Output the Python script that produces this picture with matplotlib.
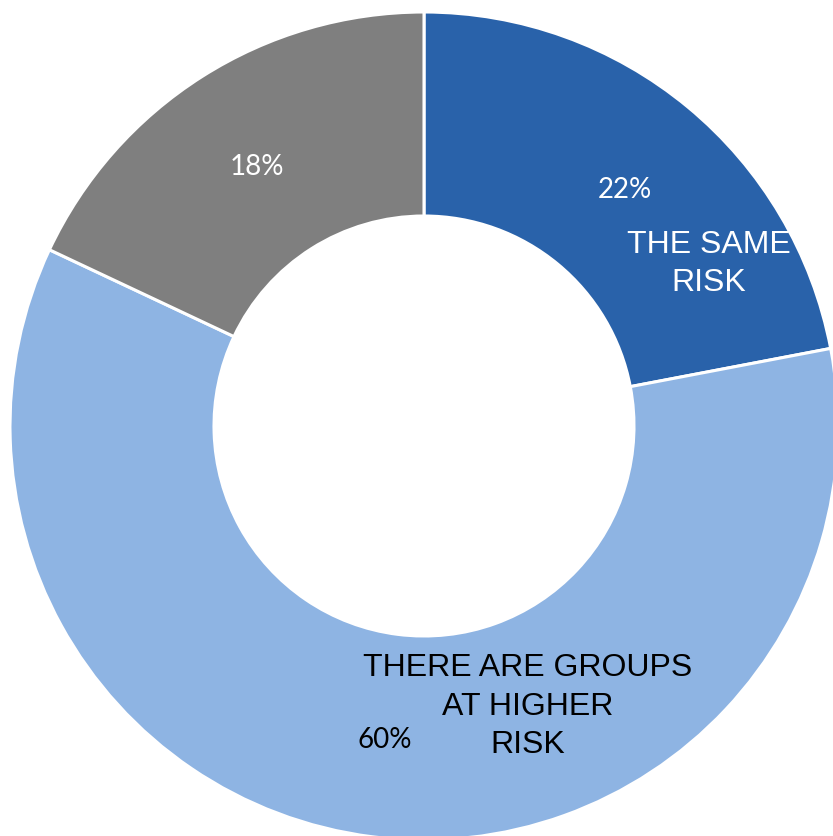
import matplotlib.pyplot as plt

# donut data, clockwise from 12 o'clock
categories = ['THE SAME\nRISK', 'THERE ARE GROUPS\nAT HIGHER\nRISK', '']
shares = [22, 60, 18]
colors = ['#2962AA', '#8EB4E3', '#7F7F7F']
pct_labels = ['22%', '60%', '18%']

W, H = 833, 837
fig = plt.figure(figsize=(W / 100, H / 100), dpi=100)
ax = fig.add_axes([0, 0, 1, 1])

cx, cy = 424, H - 427
r_out = 414
ax.pie(shares, colors=colors, startangle=90, counterclock=False,
       center=(cx, cy), radius=r_out, frame=True,
       wedgeprops=dict(width=r_out - 210, edgecolor='white', linewidth=2.2))
ax.set_xlim(0, W)
ax.set_ylim(0, H)
ax.axis('off')

# label positions (pixels from top-left)
pct_pos = [(625, 190), (385, 740), (257, 167)]
pct_color = ['white', 'black', 'white']
cat_pos = [(709, 264), (528, 707), None]
cat_color = ['white', 'black', 'white']
line_gap = 38.5

for i in range(3):
    x, y = pct_pos[i]
    ax.text(x, H - y, pct_labels[i], ha='center', va='center',
            fontsize=20, family='Lato', color=pct_color[i])
    if cat_pos[i] is not None:
        x, y = cat_pos[i]
        lines = categories[i].split('\n')
        # one text per line so the short lines don't sit on the % label
        y0 = y - line_gap * (len(lines) - 1) / 2
        for k, ln in enumerate(lines):
            ax.text(x, H - (y0 + k * line_gap), ln, ha='center', va='center',
                    fontsize=23, family='Liberation Sans', color=cat_color[i])

fig.savefig('out.png', dpi=100)
